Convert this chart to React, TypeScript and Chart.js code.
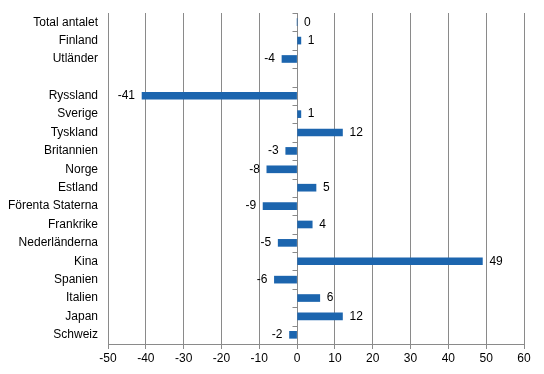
import React, { useEffect, useRef } from "react";
import { Chart, registerables } from "chart.js";

Chart.register(...registerables);

const categories = [
  "Total antalet", "Finland", "Utländer", "", "Ryssland", "Sverige", "Tyskland",
  "Britannien", "Norge", "Estland", "Förenta Staterna", "Frankrike",
  "Nederländerna", "Kina", "Spanien", "Italien", "Japan", "Schweiz",
];
const values: (number | null)[] = [
  0, 1, -4, null, -41, 1, 12, -3, -8, 5, -9, 4, -5, 49, -6, 6, 12, -2,
];
const xMin = -50;
const xMax = 60;
const xStep = 10;

const FONT = "'Liberation Sans', Arial, sans-serif";
const BAR = "#1c65ae";
const GRID = "#8a8a8a";

const labelPlugin = {
  id: "valueLabels",
  afterDatasetsDraw(chart: any) {
    const ctx = chart.ctx;
    const meta = chart.getDatasetMeta(0);
    ctx.save();
    ctx.font = `12px ${FONT}`;
    ctx.fillStyle = "#000";
    ctx.textBaseline = "middle";
    meta.data.forEach((el: any, i: number) => {
      const v = values[i];
      if (v === null || v === undefined) return;
      if (v < 0) {
        ctx.textAlign = "right";
        ctx.fillText(String(v), el.x - 7, el.y);
      } else {
        ctx.textAlign = "left";
        ctx.fillText(String(v), el.x + 7, el.y);
      }
    });
    ctx.restore();
  },
  afterDraw(chart: any) {
    const ctx = chart.ctx;
    const xs = chart.scales.x;
    const ys = chart.scales.y;
    const x0 = Math.round(xs.getPixelForValue(0)) + 0.5;
    const n = categories.length;
    const h = (ys.bottom - ys.top) / n;
    ctx.save();
    ctx.strokeStyle = GRID;
    ctx.lineWidth = 1;
    ctx.beginPath();
    for (let i = 0; i <= n; i++) {
      const y = Math.round(ys.top + i * h) + 0.5;
      ctx.moveTo(x0 - 5, y);
      ctx.lineTo(x0, y);
    }
    ctx.stroke();
    ctx.restore();
  },
};

export default function App() {
  const ref = useRef<HTMLCanvasElement>(null);
  useEffect(() => {
    if (!ref.current) return;
    const chart = new Chart(ref.current, {
      type: "bar",
      data: {
        labels: categories,
        datasets: [
          {
            data: values as any,
            backgroundColor: BAR,
            barThickness: 7,
          },
        ],
      },
      options: {
        indexAxis: "y",
        animation: false,
        responsive: false,
        maintainAspectRatio: false,
        layout: { padding: { top: 13, right: 20, left: 0, bottom: 0 } },
        plugins: { legend: { display: false }, tooltip: { enabled: false } },
        scales: {
          x: {
            min: xMin,
            max: xMax,
            ticks: {
              stepSize: xStep,
              color: "#000",
              font: { family: FONT, size: 12 },
              padding: 2,
              maxRotation: 0,
            },
            grid: { color: GRID, tickLength: 5, lineWidth: 1 },
            border: { color: GRID },
            afterFit: (s: any) => {
              s.height = 30;
            },
          },
          y: {
            grid: { display: false },
            border: { display: false },
            ticks: {
              color: "#000",
              font: { family: FONT, size: 12 },
              padding: 2,
              autoSkip: false,
            },
            afterFit: (s: any) => {
              s.width = 108;
            },
          },
        },
      },
      plugins: [labelPlugin],
    });
    return () => chart.destroy();
  }, []);
  return (
    <div style={{ position: "absolute", left: 0, top: 0, width: 544, height: 374 }}>
      <canvas ref={ref} width={544} height={374} style={{ width: 544, height: 374 }} />
    </div>
  );
}
